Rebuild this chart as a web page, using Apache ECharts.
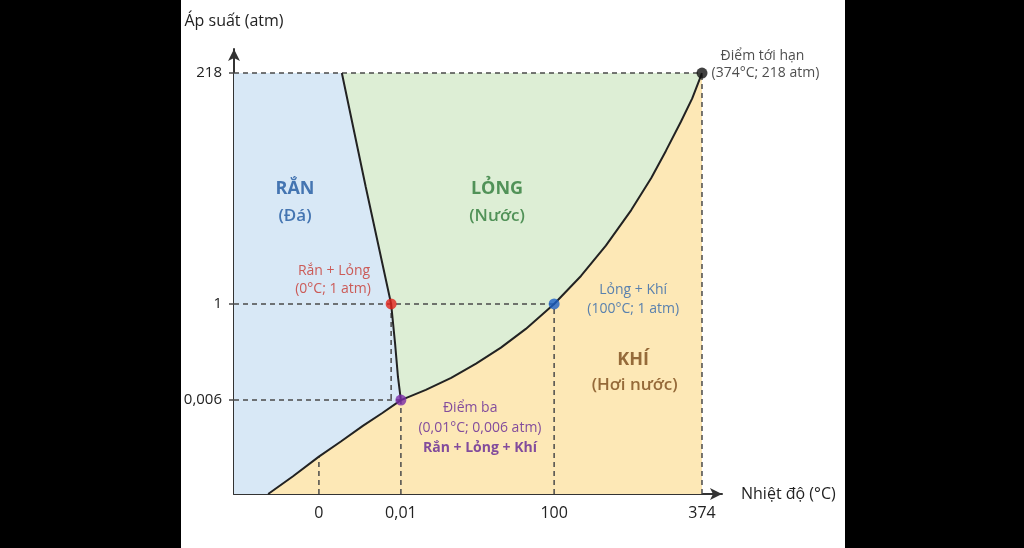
<!DOCTYPE html>
<html>
<head>
<meta charset="utf-8">
<script src="https://cdn.jsdelivr.net/npm/echarts@6/dist/echarts.min.js"></script>
<style>
  html, body { margin: 0; padding: 0; background: #000; }
  #chart { width: 1024px; height: 548px; }
</style>
</head>
<body>
<div id="chart"></div>
<script>
// schematic diagram: both axes run 0..100 in diagram units (not to scale)
const xTickPos = [17.4, 34.2, 65.6, 95.9];
const xTickLabels = ['0', '0,01', '100', '374'];
const yTickPos = [21.1, 42.7, 94.6];
const yTickLabels = ['0,006', '1', '218'];

// phase boundary curves
const meltingCurve = [[22.1, 94.6], [27.0, 69.0], [32.2, 42.7], [33.0, 33.9], [33.6, 26.3], [34.2, 21.1]];
const sublimationCurve = [[7.0, 0], [12.1, 4.0], [17.4, 8.4], [21.9, 11.8], [26.4, 15.3], [30.4, 18.2], [34.2, 21.1]];
const vaporCurve = [[34.2, 21.1], [39.3, 23.4], [44.5, 26.1], [49.6, 29.3], [54.7, 32.9], [59.8, 37.1],
  [65.6, 42.7], [71.1, 49.0], [76.2, 55.8], [81.4, 63.8], [85.5, 71.0], [88.5, 77.1],
  [91.6, 83.7], [93.9, 88.9], [95.9, 94.6]];

// special points
const meltPoint = [32.2, 42.7];
const triplePoint = [34.2, 21.1];
const boilPoint = [65.6, 42.7];
const criticalPoint = [95.9, 94.6];

// labels
const labelText = ['RẮN', '(Đá)', 'LỎNG', '(Nước)', 'KHÍ', '(Hơi nước)',
  'Rắn + Lỏng', '(0°C; 1 atm)', 'Lỏng + Khí', '(100°C; 1 atm)',
  'Điểm ba', '(0,01°C; 0,006 atm)', 'Rắn + Lỏng + Khí',
  'Điểm tới hạn', '(374°C; 218 atm)'];
const labelPos = [[12.5, 68.5], [12.5, 62.5], [53.9, 68.5], [53.9, 62.5], [81.8, 30.1], [82.1, 24.5],
  [20.5, 50.1], [20.3, 46.1], [81.8, 45.8], [81.8, 41.6],
  [48.4, 19.3], [50.4, 14.8], [50.4, 10.3],
  [108.3, 98.4], [108.9, 94.5]];

const labelStyle = [
  ['#1f58a0', 18, 'bold'], ['#1f58a0', 17, 600], ['#2e7a38', 18, 'bold'], ['#2e7a38', 17, 600],
  ['#7a4a1a', 18, 'bold'], ['#7a4a1a', 17, 600],
  ['#c8372f', 14, 'normal'], ['#c8372f', 14, 'normal'], ['#2f66ad', 14, 'normal'], ['#2f66ad', 14, 'normal'],
  ['#632496', 14, 'normal'], ['#632496', 14, 'normal'], ['#632496', 14, 'bold'],
  ['#222', 14, 'normal'], ['#222', 14, 'normal']
];

const FONT = '"Open Sans", "Noto Sans", sans-serif';

// regions built from the curves
const solidRegion = [[0, yTickPos[2]]].concat(meltingCurve, sublimationCurve.slice(0, -1).reverse(), [[0, 0]]);
const liquidRegion = vaporCurve.slice().reverse().concat(meltingCurve.slice(0, -1).reverse());
const gasRegion = sublimationCurve.concat(vaporCurve.slice(1), [[criticalPoint[0], 0]]);

function region(points, color) {
  return {
    type: 'custom',
    z: 1,
    silent: true,
    data: [0],
    renderItem: function (params, api) {
      return {
        type: 'polygon',
        shape: { points: points.map(p => api.coord(p)) },
        style: { fill: color }
      };
    }
  };
}

function dashed(a, b) {
  return {
    type: 'line', z: 2, silent: true, symbol: 'none',
    data: [a, b],
    lineStyle: { color: '#4a4a4a', width: 1.5, type: [5, 4] }
  };
}

function curve(points) {
  return {
    type: 'line', z: 3, silent: true, symbol: 'none',
    data: points,
    lineStyle: { color: '#222', width: 2 }
  };
}

function dot(p, color) {
  return {
    type: 'scatter', z: 4, silent: true, symbolSize: 11,
    data: [p], itemStyle: { color: color }
  };
}

function tickName(list, names, v) {
  let best = 0;
  for (let i = 0; i < list.length; i++) {
    if (Math.abs(list[i] - v) < Math.abs(list[best] - v)) best = i;
  }
  return names[best];
}

const chart = echarts.init(document.getElementById('chart'));
chart.setOption({
  backgroundColor: '#fff',
  animation: false,
  textStyle: { fontFamily: FONT },
  graphic: [
    { type: 'rect', shape: { x: 0, y: 0, width: 181, height: 548 }, style: { fill: '#000' } },
    { type: 'rect', shape: { x: 845, y: 0, width: 179, height: 548 }, style: { fill: '#000' } }
  ],
  grid: { left: 234, right: 302, top: 49, bottom: 54 },
  xAxis: {
    type: 'value', min: 0, max: 100,
    name: 'Nhiệt độ (°C)', nameLocation: 'end', nameGap: 19,
    nameTextStyle: { color: '#222', fontSize: 16, fontFamily: FONT, align: 'left', verticalAlign: 'middle' },
    axisLine: { show: true, symbol: ['none', 'arrow'], symbolSize: [9, 12], lineStyle: { color: '#333', width: 2 } },
    axisTick: { show: false },
    splitLine: { show: false },
    axisLabel: {
      customValues: xTickPos, margin: 11, color: '#222', fontSize: 16, fontFamily: FONT,
      formatter: v => tickName(xTickPos, xTickLabels, v)
    }
  },
  yAxis: {
    type: 'value', min: 0, max: 100,
    name: 'Áp suất (atm)', nameLocation: 'end', nameGap: 20,
    nameTextStyle: { color: '#222', fontSize: 16, fontFamily: FONT, align: 'center' },
    axisLine: { show: true, symbol: ['none', 'arrow'], symbolSize: [9, 12], lineStyle: { color: '#333', width: 2 } },
    axisTick: { show: true, customValues: yTickPos, length: 5, lineStyle: { color: '#4a4a4a', width: 1.5 } },
    splitLine: { show: false },
    axisLabel: {
      customValues: yTickPos, margin: 12, color: '#222', fontSize: 15, fontFamily: FONT,
      formatter: v => tickName(yTickPos, yTickLabels, v)
    }
  },
  series: [
    region(solidRegion, '#d8e8f6'),
    region(liquidRegion, '#ddeed5'),
    region(gasRegion, '#fde8b6'),
    dashed([0, yTickPos[2]], criticalPoint),
    dashed([0, yTickPos[1]], boilPoint),
    dashed([0, yTickPos[0]], triplePoint),
    dashed([xTickPos[0], 0], sublimationCurve[2]),
    dashed(meltPoint, [meltPoint[0], yTickPos[0]]),
    dashed([xTickPos[1], 0], triplePoint),
    dashed([xTickPos[2], 0], boilPoint),
    dashed([xTickPos[3], 0], criticalPoint),
    curve(meltingCurve),
    curve(sublimationCurve),
    curve(vaporCurve),
    dot(meltPoint, '#e2231a'),
    dot(boilPoint, '#1a5fc7'),
    dot(triplePoint, '#7a2aa8'),
    dot(criticalPoint, '#111'),
    {
      type: 'scatter', z: 5, silent: true, symbolSize: 0, clip: false,
      data: labelText.map((t, i) => ({
        value: labelPos[i],
        label: {
          show: true, position: 'inside', formatter: t,
          color: labelStyle[i][0], fontSize: labelStyle[i][1], fontWeight: labelStyle[i][2], fontFamily: FONT
        }
      }))
    }
  ]
});
</script>
</body>
</html>
